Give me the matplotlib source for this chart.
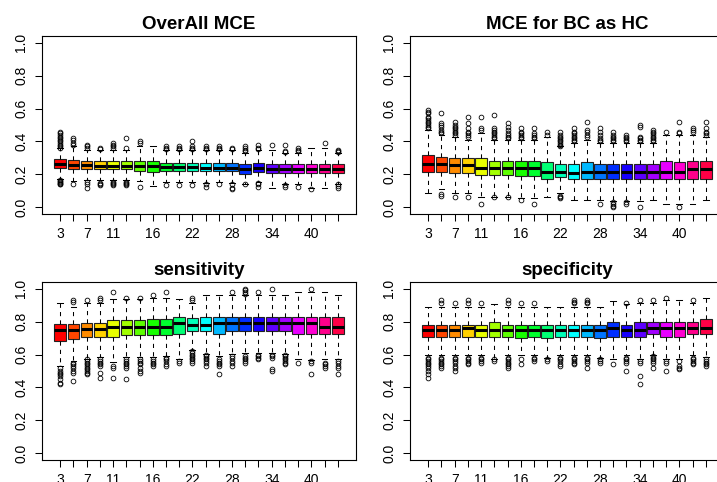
import matplotlib
matplotlib.use('Agg')
import matplotlib.pyplot as plt
from matplotlib.colors import hsv_to_rgb

plt.rcParams['font.family'] = ['Liberation Sans', 'DejaVu Sans']

# number of clusters for each box (only some labels fit under the axis)
k_values = [3, 5, 7, 9, 11, 13, 14, 16, 18, 20, 22, 24, 26, 28, 30, 32, 34, 36, 38, 40, 42, 44]
shown_labels = [3, 7, 11, 16, 22, 28, 34, 40]

titles = ['OverAll MCE', 'MCE for BC as HC', 'sensitivity', 'specificity']

# OverAll MCE
mce_q1 = [0.238, 0.235, 0.232, 0.232, 0.232, 0.232, 0.222, 0.217, 0.222, 0.222, 0.222, 0.22, 0.22, 0.22, 0.203, 0.215,
          0.21, 0.21, 0.21, 0.21, 0.21, 0.207]
mce_med = [0.262, 0.26, 0.256, 0.25, 0.25, 0.25, 0.25, 0.25, 0.248, 0.248, 0.248, 0.24, 0.24, 0.24, 0.232, 0.24,
           0.235, 0.235, 0.235, 0.235, 0.235, 0.235]
mce_q3 = [0.293, 0.29, 0.28, 0.28, 0.28, 0.28, 0.28, 0.28, 0.268, 0.27, 0.27, 0.268, 0.268, 0.268, 0.264, 0.27,
          0.265, 0.262, 0.262, 0.265, 0.265, 0.262]
mce_hi = [0.36, 0.37, 0.35, 0.35, 0.35, 0.35, 0.37, 0.37, 0.35, 0.35, 0.35, 0.35, 0.35, 0.35, 0.33, 0.35,
          0.35, 0.33, 0.33, 0.36, 0.36, 0.33]
mce_lo = [0.17, 0.16, 0.165, 0.165, 0.165, 0.165, 0.16, 0.13, 0.155, 0.155, 0.155, 0.15, 0.155, 0.15, 0.14, 0.155,
          0.12, 0.14, 0.14, 0.12, 0.12, 0.14]
mce_out = [
    [0.14, 0.145, 0.15, 0.155, 0.16, 0.165, 0.36, 0.37, 0.38, 0.39, 0.40, 0.41, 0.42, 0.43, 0.44, 0.45, 0.46],
    [0.145, 0.38, 0.39, 0.41, 0.42],
    [0.12, 0.14, 0.155, 0.36, 0.37, 0.38],
    [0.135, 0.14, 0.15, 0.355, 0.36],
    [0.135, 0.14, 0.15, 0.155, 0.36, 0.37, 0.38, 0.39],
    [0.135, 0.14, 0.15, 0.155, 0.36, 0.42],
    [0.125, 0.39, 0.40],
    [],
    [0.135, 0.355, 0.36, 0.37],
    [0.135, 0.355, 0.36, 0.37],
    [0.135, 0.355, 0.36, 0.37, 0.40],
    [0.125, 0.14, 0.355, 0.36, 0.37],
    [0.145, 0.355, 0.36, 0.37],
    [0.11, 0.12, 0.14, 0.355, 0.36],
    [0.14, 0.34, 0.35, 0.36, 0.37],
    [0.125, 0.14, 0.15, 0.355, 0.36, 0.38],
    [0.38],
    [0.125, 0.135, 0.335, 0.34, 0.38],
    [0.125, 0.34, 0.35, 0.36],
    [0.11],
    [0.39],
    [0.12, 0.13, 0.14, 0.335, 0.34, 0.35],
]

# MCE for BC as HC
bc_q1 = [0.217, 0.217, 0.211, 0.211, 0.197, 0.197, 0.197, 0.19, 0.19, 0.173, 0.183, 0.173, 0.173, 0.173, 0.173,
         0.173, 0.173, 0.173, 0.173, 0.173, 0.173, 0.173]
bc_med = [0.264, 0.264, 0.258, 0.258, 0.242, 0.242, 0.242, 0.238, 0.238, 0.217, 0.217, 0.211, 0.217, 0.217, 0.217,
          0.217, 0.217, 0.217, 0.217, 0.217, 0.232, 0.232]
bc_q3 = [0.319, 0.305, 0.297, 0.297, 0.297, 0.283, 0.283, 0.283, 0.283, 0.276, 0.264, 0.264, 0.276, 0.264, 0.264,
         0.264, 0.264, 0.264, 0.283, 0.276, 0.283, 0.283]
bc_hi = [0.47, 0.44, 0.43, 0.41, 0.45, 0.41, 0.41, 0.41, 0.41, 0.43, 0.37, 0.39, 0.41, 0.39, 0.39, 0.39, 0.39, 0.39,
         0.44, 0.44, 0.44, 0.43]
bc_lo = [0.085, 0.11, 0.085, 0.085, 0.065, 0.065, 0.065, 0.06, 0.06, 0.065, 0.085, 0.045, 0.045, 0.045, 0.04, 0.04,
         0.04, 0.045, 0.02, 0.02, 0.02, 0.045]
bc_out = [
    [0.48, 0.49, 0.50, 0.51, 0.52, 0.53, 0.54, 0.55, 0.57, 0.58, 0.59],
    [0.07, 0.08, 0.45, 0.46, 0.47, 0.49, 0.50, 0.51, 0.57],
    [0.065, 0.44, 0.45, 0.46, 0.47, 0.48, 0.49, 0.50, 0.52],
    [0.065, 0.43, 0.44, 0.45, 0.46, 0.48, 0.51, 0.55],
    [0.02, 0.47, 0.48, 0.55],
    [0.065, 0.42, 0.43, 0.44, 0.45, 0.46, 0.47, 0.48, 0.56],
    [0.065, 0.42, 0.43, 0.44, 0.45, 0.47, 0.49, 0.51],
    [0.045, 0.42, 0.43, 0.44, 0.45, 0.46, 0.48],
    [0.02, 0.42, 0.43, 0.44, 0.45, 0.48],
    [0.44, 0.46],
    [0.06, 0.065, 0.07, 0.375, 0.38, 0.39, 0.40, 0.41, 0.42, 0.43, 0.44, 0.46],
    [0.40, 0.41, 0.42, 0.43, 0.44, 0.45, 0.46, 0.48],
    [0.43, 0.44, 0.46, 0.47, 0.52],
    [0.02, 0.40, 0.41, 0.42, 0.44, 0.46, 0.48],
    [0.0, 0.01, 0.02, 0.03, 0.40, 0.41, 0.42, 0.43, 0.44, 0.46],
    [0.02, 0.03, 0.40, 0.41, 0.42, 0.43, 0.44],
    [0.0, 0.40, 0.41, 0.42, 0.43, 0.49, 0.50],
    [0.40, 0.41, 0.42, 0.43, 0.44, 0.45, 0.46, 0.47],
    [0.46],
    [0.0, 0.45, 0.46, 0.52],
    [0.46, 0.47, 0.48],
    [0.44, 0.45, 0.46, 0.48, 0.52],
]

# sensitivity
sens_q1 = [0.685, 0.697, 0.705, 0.705, 0.705, 0.72, 0.72, 0.72, 0.72, 0.726, 0.742, 0.742, 0.726, 0.742, 0.742,
           0.742, 0.742, 0.742, 0.722, 0.722, 0.722, 0.722]
sens_med = [0.748, 0.748, 0.752, 0.752, 0.768, 0.768, 0.768, 0.768, 0.768, 0.789, 0.78, 0.78, 0.789, 0.789, 0.789,
            0.789, 0.789, 0.789, 0.789, 0.789, 0.768, 0.768]
sens_q3 = [0.787, 0.787, 0.793, 0.793, 0.809, 0.809, 0.809, 0.813, 0.813, 0.829, 0.821, 0.829, 0.829, 0.829, 0.829,
           0.829, 0.829, 0.829, 0.829, 0.829, 0.829, 0.829]
sens_hi = [0.915, 0.89, 0.915, 0.915, 0.935, 0.935, 0.935, 0.94, 0.94, 0.935, 0.915, 0.96, 0.96, 0.96, 0.96, 0.96,
           0.96, 0.96, 0.98, 0.98, 0.98, 0.96]
sens_lo = [0.53, 0.56, 0.575, 0.585, 0.555, 0.585, 0.585, 0.585, 0.59, 0.575, 0.63, 0.605, 0.59, 0.605, 0.61, 0.61,
           0.61, 0.605, 0.57, 0.565, 0.57, 0.575]
sens_out = [
    [0.42, 0.43, 0.45, 0.47, 0.48, 0.49, 0.50, 0.52],
    [0.44, 0.49, 0.50, 0.52, 0.53, 0.54, 0.55, 0.92, 0.93],
    [0.48, 0.49, 0.50, 0.51, 0.52, 0.53, 0.54, 0.55, 0.56, 0.57, 0.93],
    [0.46, 0.49, 0.53, 0.54, 0.55, 0.56, 0.57, 0.93, 0.94],
    [0.46, 0.52, 0.53, 0.98],
    [0.45, 0.52, 0.53, 0.54, 0.55, 0.56, 0.57, 0.94],
    [0.49, 0.50, 0.52, 0.54, 0.55, 0.56, 0.57, 0.94],
    [0.53, 0.54, 0.55, 0.56, 0.57, 0.96],
    [0.53, 0.54, 0.56, 0.57, 0.58, 0.98],
    [0.55, 0.56],
    [0.55, 0.56, 0.57, 0.58, 0.59, 0.60, 0.61, 0.62, 0.93, 0.94],
    [0.53, 0.55, 0.56, 0.57, 0.58, 0.59, 0.60],
    [0.48, 0.53, 0.54, 0.55, 0.56, 0.57],
    [0.53, 0.55, 0.56, 0.58, 0.59, 0.98],
    [0.55, 0.56, 0.57, 0.58, 0.59, 0.97, 0.98, 0.99, 1.0],
    [0.57, 0.58, 0.59, 0.60, 0.98],
    [0.50, 0.51, 0.58, 0.59, 0.60, 1.0],
    [0.54, 0.55, 0.56, 0.57, 0.58, 0.59, 0.60],
    [0.55],
    [0.48, 0.55, 0.56, 1.0],
    [0.52, 0.53, 0.54, 0.55],
    [0.48, 0.52, 0.53, 0.55, 0.56],
]

# specificity
spec_q1 = [0.707, 0.707, 0.707, 0.707, 0.707, 0.707, 0.707, 0.699, 0.707, 0.699, 0.707, 0.707, 0.707, 0.699, 0.707,
           0.707, 0.707, 0.722, 0.707, 0.707, 0.722, 0.722]
spec_med = [0.748, 0.748, 0.748, 0.762, 0.748, 0.748, 0.748, 0.748, 0.748, 0.748, 0.748, 0.748, 0.748, 0.748, 0.762,
            0.748, 0.748, 0.762, 0.762, 0.762, 0.762, 0.762]
spec_q3 = [0.782, 0.782, 0.782, 0.782, 0.782, 0.799, 0.782, 0.782, 0.782, 0.782, 0.782, 0.782, 0.782, 0.782, 0.799,
           0.782, 0.799, 0.799, 0.799, 0.799, 0.799, 0.813]
spec_hi = [0.89, 0.89, 0.89, 0.89, 0.89, 0.905, 0.89, 0.89, 0.89, 0.89, 0.89, 0.89, 0.89, 0.89, 0.925, 0.905, 0.91,
           0.91, 0.93, 0.93, 0.91, 0.945]
spec_lo = [0.595, 0.595, 0.595, 0.595, 0.595, 0.575, 0.595, 0.595, 0.595, 0.58, 0.595, 0.595, 0.595, 0.58, 0.575,
           0.595, 0.575, 0.6, 0.575, 0.575, 0.6, 0.585]
spec_out = [
    [0.46, 0.48, 0.50, 0.52, 0.53, 0.54, 0.55, 0.56, 0.57, 0.58],
    [0.52, 0.53, 0.54, 0.55, 0.56, 0.57, 0.58, 0.91, 0.93],
    [0.50, 0.52, 0.53, 0.55, 0.56, 0.57, 0.58, 0.91],
    [0.54, 0.55, 0.56, 0.57, 0.58, 0.91, 0.93],
    [0.55, 0.56, 0.57, 0.58, 0.91],
    [0.56, 0.57],
    [0.52, 0.53, 0.54, 0.55, 0.56, 0.57, 0.58, 0.91, 0.93],
    [0.54, 0.57, 0.91],
    [0.56, 0.57, 0.58, 0.91],
    [0.56, 0.57],
    [0.53, 0.54, 0.56, 0.57, 0.58],
    [0.54, 0.55, 0.56, 0.57, 0.58, 0.91, 0.92, 0.93],
    [0.52, 0.55, 0.56, 0.57, 0.58, 0.91, 0.92, 0.93],
    [0.55, 0.56, 0.57],
    [0.54],
    [0.50, 0.55, 0.56, 0.57, 0.58, 0.91],
    [0.42, 0.47, 0.55, 0.56, 0.93],
    [0.52, 0.55, 0.56, 0.57, 0.58, 0.59, 0.93],
    [0.50, 0.55, 0.56, 0.945],
    [0.51, 0.52, 0.53, 0.56],
    [0.54, 0.55, 0.56, 0.57, 0.58, 0.93],
    [0.53, 0.54, 0.55, 0.56, 0.57],
]

panels = [
    (mce_q1, mce_med, mce_q3, mce_lo, mce_hi, mce_out),
    (bc_q1, bc_med, bc_q3, bc_lo, bc_hi, bc_out),
    (sens_q1, sens_med, sens_q3, sens_lo, sens_hi, sens_out),
    (spec_q1, spec_med, spec_q3, spec_lo, spec_hi, spec_out),
]

n = len(k_values)
# same hues as R's rainbow(n)
box_colors = [hsv_to_rgb((i / n, 1, 1)) for i in range(n)]

fig = plt.figure(figsize=(7.17, 4.82), dpi=100)
W, H = 717, 482
# plot regions in pixels: left, top (right column runs off the page edge)
corners = [(42, 36), (410, 36), (42, 282), (410, 282)]
pw, ph = 314, 178

positions = list(range(1, n + 1))
tick_text = [str(k) if k in shown_labels else '' for k in k_values]

for (left, top), title, (q1, med, q3, lo, hi, out) in zip(corners, titles, panels):
    ax = fig.add_axes([left / W, 1 - (top + ph) / H, pw / W, ph / H])
    stats = []
    for i in range(n):
        stats.append({'q1': q1[i], 'med': med[i], 'q3': q3[i],
                      'whislo': lo[i], 'whishi': hi[i], 'fliers': out[i]})
    bp = ax.bxp(stats, positions=positions, widths=0.88, capwidths=0.44, patch_artist=True,
                boxprops=dict(edgecolor='#222222', linewidth=0.8),
                medianprops=dict(color='black', linewidth=2.2, solid_capstyle='butt'),
                whiskerprops=dict(color='black', linewidth=0.75, linestyle=(0, (4, 4))),
                capprops=dict(color='black', linewidth=0.75),
                flierprops=dict(marker='o', markerfacecolor='none', markeredgecolor='black',
                                markersize=3.4, markeredgewidth=0.6))
    for patch, c in zip(bp['boxes'], box_colors):
        patch.set_facecolor(c)

    ax.set_xlim(0.5 - 0.04 * n, n + 0.5 + 0.04 * n)
    ax.set_ylim(-0.04, 1.04)
    ax.set_xticks(positions)
    ax.set_xticklabels(tick_text)
    ax.set_yticks([0.0, 0.2, 0.4, 0.6, 0.8, 1.0])
    ax.set_yticklabels(['0.0', '0.2', '0.4', '0.6', '0.8', '1.0'], rotation=90, va='center')
    ax.tick_params(axis='both', direction='out', length=5, width=0.75, labelsize=10, color='black')
    ax.tick_params(axis='x', pad=4)
    ax.tick_params(axis='y', pad=5)
    for s in ax.spines.values():
        s.set_linewidth(0.8)
        s.set_color('black')
    ax.set_title(title, fontsize=13.5, fontweight='bold', pad=5)

fig.savefig('out.png', dpi=100)
